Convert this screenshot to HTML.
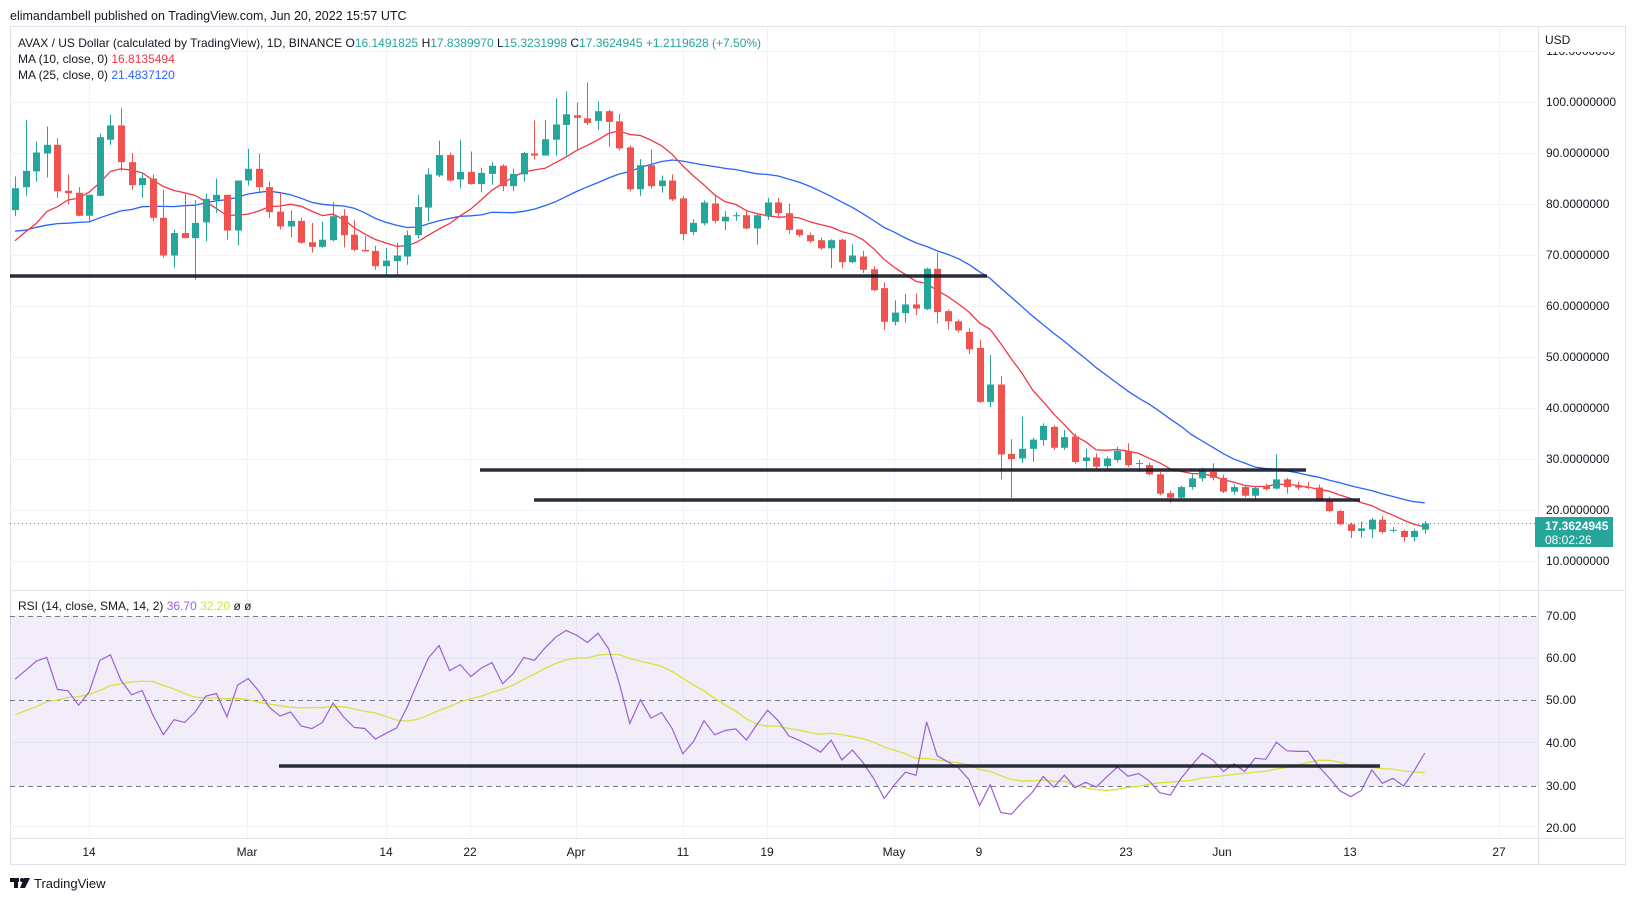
<!DOCTYPE html>
<html><head><meta charset="utf-8"><style>
html,body{margin:0;padding:0;background:#fff;}
svg{display:block;font-family:"Liberation Sans",sans-serif;}
</style></head><body>
<svg id="s" width="1633" height="901" viewBox="0 0 1633 901" xmlns="http://www.w3.org/2000/svg">
<defs>
<clipPath id="cm"><rect x="10" y="27" width="1528" height="563"/></clipPath>
<clipPath id="cr"><rect x="10" y="591" width="1528" height="247"/></clipPath>
<clipPath id="ca"><rect x="1539" y="52" width="90" height="536"/></clipPath>
</defs>
<text x="10" y="20" font-size="12.5" fill="#131722">elimandambell published on TradingView.com, Jun 20, 2022 15:57 UTC</text>
<rect x="10.5" y="26.5" width="1615" height="838" fill="none" stroke="#e0e3eb"/>
<g id="grid" stroke="#f0f3fa" stroke-width="1"></g>
<rect x="10" y="616" width="1528" height="170" fill="#7e57c2" fill-opacity="0.1"/>
<g stroke="#787b86" stroke-dasharray="5,4" stroke-width="1">
<line x1="10" y1="616.5" x2="1538" y2="616.5"/><line x1="10" y1="700.5" x2="1538" y2="700.5"/><line x1="10" y1="786.5" x2="1538" y2="786.5"/>
</g>
<line x1="1538.5" y1="26" x2="1538.5" y2="865" stroke="#e0e3eb"/>
<line x1="10" y1="590.5" x2="1626" y2="590.5" stroke="#e0e3eb"/>
<line x1="10" y1="838.5" x2="1626" y2="838.5" stroke="#e0e3eb"/>
<g id="main" clip-path="url(#cm)"></g>
<g id="rsi" clip-path="url(#cr)"></g>
<line x1="10" y1="523.5" x2="1538" y2="523.5" stroke="#26a69a" stroke-dasharray="1,3"/>
<g stroke="#131722" stroke-width="3.5" stroke-opacity="0.9">
<line x1="10" y1="276" x2="987" y2="276"/>
<line x1="480" y1="470" x2="1306" y2="470"/>
<line x1="534" y1="500" x2="1360" y2="500"/>
<line x1="279" y1="766" x2="1380" y2="766"/>
</g>
<g font-size="12" fill="#131722">
<text x="18" y="47">AVAX / US Dollar (calculated by TradingView), 1D, BINANCE <tspan>O</tspan><tspan fill="#26a69a">16.1491825</tspan>  <tspan>H</tspan><tspan fill="#26a69a">17.8389970</tspan>  <tspan>L</tspan><tspan fill="#26a69a">15.3231998</tspan>  <tspan>C</tspan><tspan fill="#26a69a">17.3624945  +1.2119628 (+7.50%)</tspan></text>
<text x="18" y="63">MA (10, close, 0) <tspan fill="#f23645">16.8135494</tspan></text>
<text x="18" y="79">MA (25, close, 0) <tspan fill="#2962ff">21.4837120</tspan></text>
<text x="18" y="610">RSI (14, close, SMA, 14, 2) <tspan fill="#9c5fd6">36.70</tspan> <tspan fill="#d7e23c">32.20</tspan> <tspan>ø</tspan> <tspan>ø</tspan></text>
</g>
<g font-size="12" fill="#131722">
<text x="1545" y="44">USD</text>
<g clip-path="url(#ca)"><text x="1546" y="55">110.0000000</text></g>
<text x="1546" y="106">100.0000000</text>
<text x="1546" y="157">90.0000000</text>
<text x="1546" y="208">80.0000000</text>
<text x="1546" y="259">70.0000000</text>
<text x="1546" y="310">60.0000000</text>
<text x="1546" y="361">50.0000000</text>
<text x="1546" y="412">40.0000000</text>
<text x="1546" y="463">30.0000000</text>
<text x="1546" y="514">20.0000000</text>
<text x="1546" y="565">10.0000000</text>
<text x="1546" y="620">70.00</text>
<text x="1546" y="662">60.00</text>
<text x="1546" y="704">50.00</text>
<text x="1546" y="747">40.00</text>
<text x="1546" y="790">30.00</text>
<text x="1546" y="832">20.00</text>
</g>
<rect x="1535" y="517" width="78" height="30" fill="#26a69a"/>
<text x="1545" y="530" font-size="12" font-weight="bold" fill="#fff">17.3624945</text>
<text x="1545" y="544" font-size="12" fill="#fff">08:02:26</text>
<g font-size="12" fill="#131722" text-anchor="middle">
<text x="89" y="856">14</text><text x="247" y="856">Mar</text><text x="386" y="856">14</text><text x="470" y="856">22</text>
<text x="576" y="856">Apr</text><text x="683" y="856">11</text><text x="767" y="856">19</text><text x="894" y="856">May</text>
<text x="979" y="856">9</text><text x="1126" y="856">23</text><text x="1222" y="856">Jun</text><text x="1350" y="856">13</text><text x="1499" y="856">27</text>
</g>
<g fill="#131722">
<rect x="10" y="878" width="9" height="4"/><rect x="14" y="878" width="4" height="10"/>
<circle cx="22" cy="880" r="2"/><polygon points="24,878 30,878 25,888 20,888"/>
<text x="34" y="888" font-size="13">TradingView</text>
</g>
</svg>
<script>
const D=[[78.8,83.1,85.4,77.6],[83.3,86.5,96.5,81.6],[86.4,90.1,92.3,84.4],[89.9,91.6,95.2,85.2],[91.6,82.5,92.9,81.2],[82.6,82.1,85.8,79.9],[82.2,77.7,83.3,77.6],[77.7,81.8,81.8,76.3],[81.6,93.1,93.8,81.5],[92.6,95.4,97.5,91.6],[95.4,88.2,98.8,86.4],[88.2,83.7,90,82.8],[83.7,85.1,86.2,81.2],[85,77.3,85.8,76.6],[77.3,69.9,82.8,69.5],[69.9,74.3,75,67.5],[74.3,73.3,82.2,73.3],[73.3,76.3,80.8,65.2],[76.4,81,82,72.7],[80.8,81.8,85,78.2],[81.8,74.8,81.8,73],[74.8,84.6,84.6,71.9],[84.6,86.9,90.8,83.6],[86.9,83.3,89.9,82.5],[83.3,78.4,84.4,77.3],[78.5,75.6,82.2,75],[75.6,76.7,78.7,73.5],[76.7,72.4,77.3,72.2],[72.5,71.6,76.3,70.5],[71.6,73,76.6,71.4],[72.9,77.6,80.4,72.7],[77.7,73.9,79,71.5],[74,71,76.9,70.7],[71,70.7,73.7,70.7],[70.8,67.8,71.8,67.1],[67.8,68.9,71.4,65.8],[68.8,69.9,72.4,66.1],[69.7,73.9,74.8,68.1],[73.9,79.4,81.8,73.2],[79.3,85.8,87,76.6],[85.6,89.6,92.4,85.3],[89.6,84.6,90.1,84.4],[84.8,86.3,92.6,83.1],[86.3,83.9,90.3,83.8],[83.9,86.1,87.1,82.3],[85.9,87.5,88.2,83.8],[87.5,83.5,87.8,82.5],[83.5,85.9,86.9,82.5],[85.8,90,90.2,84.4],[89.9,89.5,96.4,88.7],[89.5,92.7,96.5,89.5],[92.6,95.6,100.7,89.5],[95.5,97.6,102.1,89.5],[97.4,96.9,99.9,90.7],[96.8,95.9,103.8,95.5],[96.3,98.2,100.1,94.5],[98.2,96.1,98.5,91.2],[96.2,90.9,97.7,90.5],[91.1,82.9,91.5,82.5],[82.9,87.6,88.8,81.6],[87.6,83.5,90.7,83],[83.5,84.6,85.6,82.2],[84.6,80.9,85.8,80.6],[81.1,74.1,81.6,72.9],[74.5,76.3,77,73.9],[76.2,80.3,80.7,75.8],[80.1,76.7,81.9,76.2],[76.6,77.5,78.6,74.9],[77.6,77.8,78.4,76.7],[77.8,75.2,78.8,75],[75.2,77.8,78,72],[77.6,80.3,81.2,76.9],[80.3,78.2,81.2,77.5],[78.2,74.9,80.1,74.2],[75,73.9,75,73.5],[73.9,72.7,74.4,72.4],[72.9,71.3,73.4,71],[71.3,72.9,73.1,67.4],[73,68.6,73.2,67.4],[68.6,69.9,72.1,68.4],[69.7,67.1,70.8,66.5],[67.2,63.1,67.8,62.9],[63.5,56.9,64.6,55.4],[56.9,58.7,61.1,56.2],[58.6,60.3,62.4,56.7],[60.3,59.5,62.5,58.2],[59.4,67.3,67.5,59.2],[67.3,58.8,70.4,56.6],[59,57,59.3,55.4],[57,55.2,57.4,54.8],[54.9,51.5,55.6,50.6],[51.8,41.2,53.3,41],[41.2,44.6,50.4,40.2],[44.6,30.9,46.3,26],[31,30,33.9,22.4],[30.1,32,38.3,29.2],[32,33.8,34.2,29.4],[33.7,36.5,37,32.6],[36.3,32.2,36.6,31.8],[32.2,34.3,35.7,31.8],[34.4,29.4,35,29],[29.6,30.3,32,28.2],[30.3,28.5,31.1,28.1],[28.6,30.1,30.5,28.1],[29.8,31.6,32.4,29.3],[31.6,28.8,33.1,28.4],[29.1,29.2,29.8,27.4],[28.8,27,29.3,26.8],[27,23.2,27.4,22.9],[23.3,22.4,23.8,21.4],[22.4,24.5,24.8,22.2],[24.5,26.2,27,24],[26.2,27.8,28.3,25.6],[27.5,26.3,29.2,25.8],[26.3,23.6,26.9,23.3],[23.6,24.5,25,23],[24.5,22.8,24.8,22.5],[22.8,24.3,24.6,22.1],[24.7,24.1,25.2,23.8],[24.2,26,30.9,24],[26,24.5,26.3,23.2],[24.7,24.4,25.5,24],[24.5,24.4,25.5,24.1],[24.4,21.9,25,21.7],[21.9,19.8,22.6,19.5],[19.8,17.2,20,17],[17.2,15.9,17.5,14.5],[15.9,16.4,17.8,14.6],[16.2,18.1,18.4,14.5],[18.1,15.7,18.8,15.4],[16,16.1,16.7,15.6],[15.9,14.7,16.1,13.8],[14.7,15.9,16.3,13.8],[16.15,17.36,17.84,15.32]];
const pre=[80,76,81,75,80,74,79,73,78,72,77,71,76,70,75,69,74,68,73,67,72,66,71,65,70,66,71,67,72,70].map(v=>v+3);
const NS="http://www.w3.org/2000/svg";
const X=i=>15+10.6*i, Y=p=>612-5.1*p, R=r=>910-4.2*r;
function el(t,a,par){const e=document.createElementNS(NS,t);for(const k in a)e.setAttribute(k,a[k]);par.appendChild(e);return e;}
const grid=document.getElementById('grid');
[89,247,386,470,576,683,767,894,979,1126,1222,1350,1499].forEach(x=>el('line',{x1:x+.5,y1:27,x2:x+.5,y2:838},grid));
[110,100,90,80,70,60,50,40,30,20,10].forEach(p=>el('line',{x1:10,y1:Math.round(Y(p))+.5,x2:1538,y2:Math.round(Y(p))+.5},grid));
[60,40,20].forEach(r=>el('line',{x1:10,y1:Math.round(R(r))+.5,x2:1538,y2:Math.round(R(r))+.5},grid));
const main=document.getElementById('main');
const closes=pre.concat(D.map(d=>d[1])), P=pre.length;
function sma(n){const o=[];for(let i=0;i<D.length;i++){let s=0;for(let k=0;k<n;k++)s+=closes[P+i-k];o.push(s/n);}return o;}
function pl(arr,fy,col,par,w){el('polyline',{points:arr.map((v,i)=>X(i).toFixed(1)+','+fy(v).toFixed(1)).join(' '),fill:'none',stroke:col,'stroke-width':w||1.3},par);}
pl(sma(25),Y,'#2962ff',main);pl(sma(10),Y,'#f23645',main);
D.forEach((d,i)=>{const[o,c,h,l]=d,up=c>=o,col=up?'#26a69a':'#ef5350',x=Math.round(X(i));
el('line',{x1:x+.5,y1:Y(h),x2:x+.5,y2:Y(l),stroke:col},main);
const t=Y(Math.max(o,c)),b=Y(Math.min(o,c));el('rect',{x:x-3,y:t,width:7,height:Math.max(1,b-t),fill:col},main);});
let ag=0,al=0;const rs=[];
for(let i=1;i<closes.length;i++){const ch=closes[i]-closes[i-1],g=Math.max(ch,0),lo=Math.max(-ch,0);
if(i<=14){ag+=g/14;al+=lo/14;}else{ag=(ag*13+g)/14;al=(al*13+lo)/14;}
if(i>=14){rs.push(al==0?100:100-100/(1+ag/al));}}
const off=rs.length-D.length;const rsi=rs.slice(off);const rsma=[];
for(let i=0;i<D.length;i++){let s=0,n=0;for(let k=0;k<14;k++){const j=off+i-k;if(j>=0){s+=rs[j];n++;}}rsma.push(s/n);}
const rg=document.getElementById('rsi');
pl(rsma,R,'#d7e23c',rg,1.3);pl(rsi,R,'#9c5fd6',rg,1.2);
</script>
</body></html>
